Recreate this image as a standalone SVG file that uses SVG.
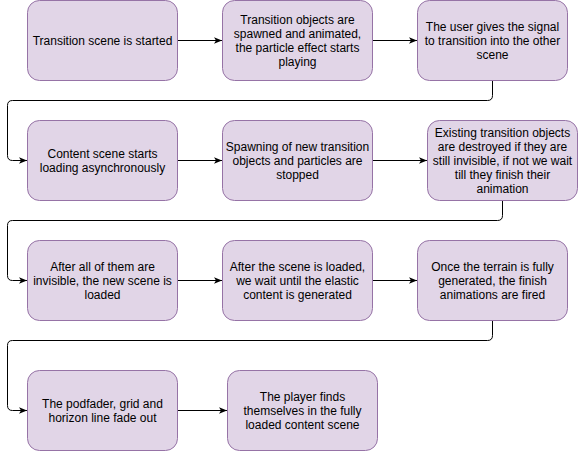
<svg xmlns="http://www.w3.org/2000/svg" width="578" height="451" viewBox="0 0 578 451">
<style>
.box{fill:#e1d5e7;stroke:#9673a6;stroke-width:1}
.t{font-family:"Liberation Sans",Arial,sans-serif;font-size:12px;fill:#000;text-anchor:middle}
.c{fill:none;stroke:#000;stroke-width:1}
</style>
<defs>
<marker id="ah" viewBox="0 0 10 10" refX="10" refY="5" markerWidth="8" markerHeight="8" markerUnits="userSpaceOnUse" orient="auto">
<path d="M0,1 L10,5 L0,9 L2.5,5 Z" fill="#000"/>
</marker>
</defs>
<rect width="578" height="451" fill="#fff"/>
<g id="connectors">
<path class="c" d="M177.5,40.5 H222" marker-end="url(#ah)"/>
<path class="c" d="M372.5,40.5 H417" marker-end="url(#ah)"/>
<path class="c" d="M492.5,80.5 V95.5 Q492.5,100.5 487.5,100.5 H12.5 Q7.5,100.5 7.5,105.5 V155.5 Q7.5,160.5 12.5,160.5 H27" marker-end="url(#ah)"/>
<path class="c" d="M177.5,160.5 H222" marker-end="url(#ah)"/>
<path class="c" d="M372.5,160.5 H427" marker-end="url(#ah)"/>
<path class="c" d="M502.5,200.5 V215.5 Q502.5,220.5 497.5,220.5 H12.5 Q7.5,220.5 7.5,225.5 V275.5 Q7.5,280.5 12.5,280.5 H27" marker-end="url(#ah)"/>
<path class="c" d="M177.5,280.5 H222" marker-end="url(#ah)"/>
<path class="c" d="M372.5,280.5 H417" marker-end="url(#ah)"/>
<path class="c" d="M492.5,320.5 V335.5 Q492.5,340.5 487.5,340.5 H12.5 Q7.5,340.5 7.5,345.5 V405.5 Q7.5,410.5 12.5,410.5 H27" marker-end="url(#ah)"/>
<path class="c" d="M177.5,410.5 H227" marker-end="url(#ah)"/>
</g>
<g id="n1"><rect class="box" x="27.5" y="0.5" width="150" height="80" rx="12"/>
<text class="t" x="102.5" y="45">Transition scene is started</text></g>
<g id="n2"><rect class="box" x="222.5" y="0.5" width="150" height="80" rx="12"/>
<text class="t" x="297.5" y="24">Transition objects are</text>
<text class="t" x="297.5" y="38">spawned and animated,</text>
<text class="t" x="297.5" y="52">the particle effect starts</text>
<text class="t" x="297.5" y="66">playing</text></g>
<g id="n3"><rect class="box" x="417.5" y="0.5" width="150" height="80" rx="12"/>
<text class="t" x="492.5" y="31">The user gives the signal</text>
<text class="t" x="492.5" y="45">to transition into the other</text>
<text class="t" x="492.5" y="59">scene</text></g>
<g id="n4"><rect class="box" x="27.5" y="120.5" width="150" height="80" rx="12"/>
<text class="t" x="102.5" y="158">Content scene starts</text>
<text class="t" x="102.5" y="172">loading asynchronously</text></g>
<g id="n5"><rect class="box" x="222.5" y="120.5" width="150" height="80" rx="12"/>
<text class="t" x="297.5" y="151">Spawning of new transition</text>
<text class="t" x="297.5" y="165">objects and particles are</text>
<text class="t" x="297.5" y="179">stopped</text></g>
<g id="n6"><rect class="box" x="427.5" y="120.5" width="150" height="80" rx="12"/>
<text class="t" x="502.5" y="137">Existing transition objects</text>
<text class="t" x="502.5" y="151">are destroyed if they are</text>
<text class="t" x="502.5" y="165">still invisible, if not we wait</text>
<text class="t" x="502.5" y="179">till they finish their</text>
<text class="t" x="502.5" y="193">animation</text></g>
<g id="n7"><rect class="box" x="27.5" y="240.5" width="150" height="80" rx="12"/>
<text class="t" x="102.5" y="271">After all of them are</text>
<text class="t" x="102.5" y="285">invisible, the new scene is</text>
<text class="t" x="102.5" y="299">loaded</text></g>
<g id="n8"><rect class="box" x="222.5" y="240.5" width="150" height="80" rx="12"/>
<text class="t" x="297.5" y="271">After the scene is loaded,</text>
<text class="t" x="297.5" y="285">we wait until the elastic</text>
<text class="t" x="297.5" y="299">content is generated</text></g>
<g id="n9"><rect class="box" x="417.5" y="240.5" width="150" height="80" rx="12"/>
<text class="t" x="492.5" y="271">Once the terrain is fully</text>
<text class="t" x="492.5" y="285">generated, the finish</text>
<text class="t" x="492.5" y="299">animations are fired</text></g>
<g id="n10"><rect class="box" x="27.5" y="370.5" width="150" height="80" rx="12"/>
<text class="t" x="102.5" y="408">The podfader, grid and</text>
<text class="t" x="102.5" y="422">horizon line fade out</text></g>
<g id="n11"><rect class="box" x="227.5" y="370.5" width="150" height="80" rx="12"/>
<text class="t" x="302.5" y="401">The player finds</text>
<text class="t" x="302.5" y="415">themselves in the fully</text>
<text class="t" x="302.5" y="429">loaded content scene</text></g>
</svg>
